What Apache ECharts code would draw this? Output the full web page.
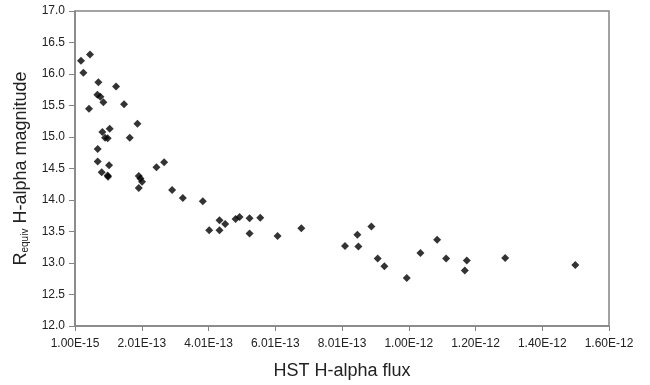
<!DOCTYPE html>
<html>
<head>
<meta charset="utf-8">
<script src="https://cdn.jsdelivr.net/npm/echarts@6/dist/echarts.min.js"></script>
<style>
  html, body { margin: 0; padding: 0; background: #fff; }
  #chart { width: 650px; height: 385px; }
</style>
</head>
<body>
<div id="chart"></div>
<script>
// HST H-alpha flux for each source
const flux = [
  1.9e-14, 4.6e-14, 2.6e-14, 7.1e-14, 1.24e-13, 6.8e-14, 7.7e-14, 8.6e-14,
  1.48e-13, 4.3e-14, 1.88e-13, 1.05e-13, 8.3e-14, 9.1e-14, 9.9e-14, 1.65e-13,
  6.9e-14, 6.9e-14, 1.03e-13, 8.1e-14, 9.9e-14, 1.0e-13, 2.45e-13, 2.68e-13,
  1.92e-13, 1.97e-13, 2.02e-13, 1.92e-13, 2.92e-13, 3.24e-13, 3.84e-13, 4.03e-13,
  4.34e-13, 4.34e-13, 4.51e-13, 4.82e-13, 4.94e-13, 5.24e-13, 5.24e-13, 5.56e-13,
  6.08e-13, 6.79e-13, 8.10e-13, 8.47e-13, 8.50e-13, 8.89e-13, 9.08e-13, 9.28e-13,
  9.95e-13, 1.036e-12, 1.086e-12, 1.113e-12, 1.169e-12, 1.175e-12, 1.290e-12, 1.500e-12
];
// Equivalent R-band H-alpha magnitude for each source
const magnitude = [
  16.21, 16.31, 16.02, 15.87, 15.80, 15.67, 15.64, 15.55,
  15.52, 15.45, 15.21, 15.13, 15.08, 14.99, 14.98, 14.99,
  14.81, 14.61, 14.55, 14.44, 14.39, 14.37, 14.52, 14.60,
  14.38, 14.34, 14.29, 14.19, 14.16, 14.03, 13.98, 13.52,
  13.68, 13.52, 13.62, 13.70, 13.73, 13.71, 13.47, 13.72,
  13.43, 13.55, 13.27, 13.45, 13.26, 13.58, 13.07, 12.95,
  12.76, 13.16, 13.37, 13.07, 12.88, 13.04, 13.08, 12.97
];

// x-axis ticks start at 1.00E-15 and step by 2E-13
const xMin = 1e-15, xMax = 1.601e-12, xStep = 2e-13;
const yMin = 12.0, yMax = 17.0, yStep = 0.5;

const points = flux.map((f, i) => [f, magnitude[i]]);

const chart = echarts.init(document.getElementById('chart'), null, { renderer: 'canvas' });
const axisGray = '#858585';
const fontFamily = 'Liberation Sans, Arial, sans-serif';
const labelFont = { fontFamily: fontFamily, fontSize: 12, color: '#222' };

chart.setOption({
  backgroundColor: '#ffffff',
  animation: false,
  grid: {
    left: 75, right: 41, top: 11, bottom: 57,
    show: true, borderColor: axisGray, borderWidth: 1.5, backgroundColor: 'transparent'
  },
  xAxis: {
    type: 'value',
    min: xMin, max: xMax, interval: xStep,
    name: 'HST H-alpha flux',
    nameLocation: 'middle',
    nameGap: 36,
    nameTextStyle: { fontFamily: fontFamily, fontSize: 18, color: '#222' },
    axisLine: { show: true, lineStyle: { color: axisGray, width: 1.5 } },
    axisTick: { show: true, inside: false, length: 5, lineStyle: { color: axisGray, width: 1 } },
    axisLabel: Object.assign({
      margin: 12,
      formatter: v => v.toExponential(2).toUpperCase()
    }, labelFont),
    splitLine: { show: false }
  },
  yAxis: {
    type: 'value',
    min: yMin, max: yMax, interval: yStep,
    name: '{r|R}{s|equiv}{r| H-alpha magnitude}',
    nameLocation: 'middle',
    nameGap: 45,
    nameRotate: 90,
    nameTextStyle: {
      fontFamily: fontFamily, color: '#222',
      rich: {
        r: { fontFamily: fontFamily, fontSize: 18, color: '#222' },
        s: { fontFamily: fontFamily, fontSize: 10, color: '#222', verticalAlign: 'bottom', padding: [8, 0, 0, 0] }
      }
    },
    axisLine: { show: true, lineStyle: { color: axisGray, width: 1.5 } },
    axisTick: { show: true, inside: false, length: 6, lineStyle: { color: axisGray, width: 1 } },
    axisLabel: Object.assign({
      margin: 10,
      formatter: v => v.toFixed(1)
    }, labelFont),
    splitLine: { show: false }
  },
  series: [{
    type: 'scatter',
    data: points,
    symbol: 'diamond',
    symbolSize: 8,
    itemStyle: { color: '#000' }
  }]
});
</script>
</body>
</html>
